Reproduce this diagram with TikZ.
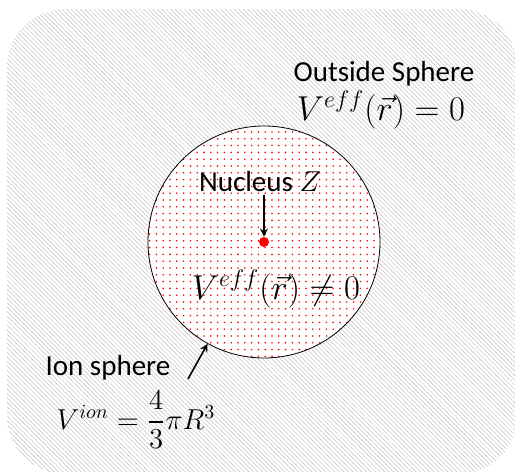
\documentclass[tikz,border=0pt]{standalone}
\usepackage{fontspec}
\setmainfont{Carlito}
\usepackage{amsmath,amssymb}
\usetikzlibrary{arrows,positioning,patterns.meta}

\tikzset{
  lbl/.style={font=\fontsize{14.5}{17}\selectfont, inner sep=1pt},
  mathlbl/.style={font=\fontsize{16.5}{19}\selectfont, inner sep=1pt},
  hatch/.style={pattern={Lines[angle=-45,distance=1.6pt,line width=0.25pt]}, pattern color=gray!50},
  redgrid/.style={pattern={Dots[radius=0.45pt,distance=3.4pt]}, pattern color=red}
}

\begin{document}
\begin{tikzpicture}[x=0.5pt,y=-0.5pt,>=stealth]
  \useasboundingbox (0,0) rectangle (515,472);
  % background region outside the sphere
  \fill[hatch, rounded corners=29pt] (7,9) rectangle (517,474);
  % the ion sphere
  \node[circle, draw, thin, minimum size=116pt, inner sep=0pt,
        preaction={fill=white}, redgrid] (sphere) at (264,242) {};
  \node[circle, fill=red, inner sep=0pt, minimum size=5pt] (nuc) at (264,242) {};

  \node[lbl] (out) at (384,74) {Outside Sphere};
  \node[mathlbl] (outV) at (381,110) {$V^{eff}(\vec{r}) = 0$};
  \node[lbl] (nucl) at (260,182) {Nucleus $Z$};
  \node[mathlbl] (inV) at (276,289) {$V^{eff}(\vec{r}) \neq 0$};
  \node[lbl] (ion) at (108,368) {Ion sphere};
  \node[mathlbl, font=\fontsize{14.5}{17}\selectfont] (ionV) at (136,420) {$V^{ion} = \dfrac{4}{3}\pi R^3$};

  \coordinate (ionarr) at (188,379);
  \draw[->, thick] (nucl.south -| nuc) -- (nuc);
  \draw[->, thick] (ionarr) -- (sphere.241);
\end{tikzpicture}
\end{document}
